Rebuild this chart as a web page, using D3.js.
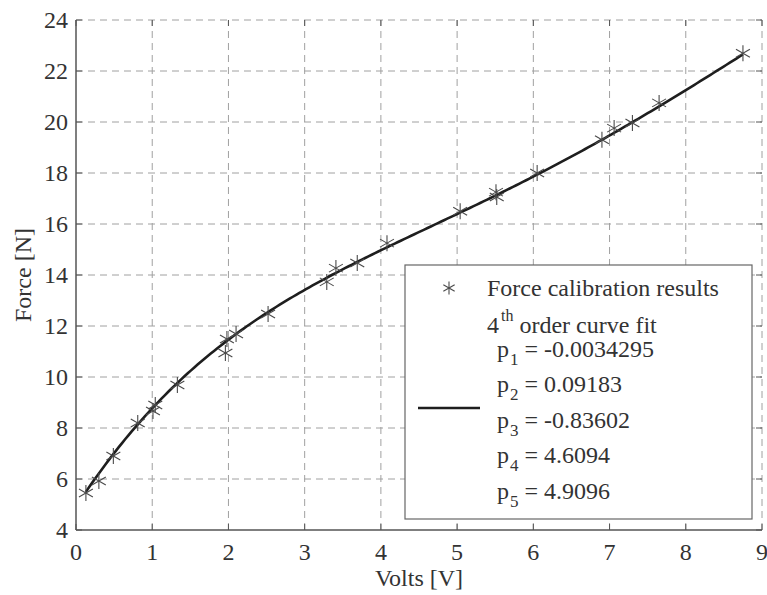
<!DOCTYPE html>
<html>
<head>
<meta charset="utf-8">
<script src="https://cdn.jsdelivr.net/npm/d3@7"></script>
<style>
  body { margin: 0; background: #fff; }
  svg text { font-family: "Liberation Serif", "DejaVu Serif", serif; fill: #333; }
</style>
</head>
<body>
<div id="chart"></div>
<script>
// measured calibration points
const volts = [0.13, 0.30, 0.49, 0.81, 1.04, 1.01, 1.33, 1.96, 1.98, 2.10, 2.52, 3.29, 3.41, 3.69, 4.08,
               5.04, 5.52, 5.51, 6.05, 6.90, 7.06, 7.30, 7.65, 8.75];
const force = [5.45, 5.92, 6.90, 8.20, 8.90, 8.67, 9.69, 10.94, 11.49, 11.69, 12.47, 13.73, 14.27, 14.47, 15.25,
               16.50, 17.06, 17.25, 18.00, 19.30, 19.76, 19.96, 20.75, 22.70];
// 4th order fit coefficients (p1..p5)
const coeffs = [-0.0034295, 0.09183, -0.83602, 4.6094, 4.9096];
const coeffLabels = ["-0.0034295", "0.09183", "-0.83602", "4.6094", "4.9096"];
const xTicks = [0, 1, 2, 3, 4, 5, 6, 7, 8, 9];
const yTicks = [4, 6, 8, 10, 12, 14, 16, 18, 20, 22, 24];

const width = 767, height = 595;
const margin = {left: 76, right: 5, top: 20, bottom: 65};

const svg = d3.select("#chart").append("svg")
    .attr("width", width)
    .attr("height", height);

const x = d3.scaleLinear().domain([0, 9]).range([margin.left, width - margin.right]);
const y = d3.scaleLinear().domain([4, 24]).range([height - margin.bottom, margin.top]);

const x0 = x(0), x1 = x(9), y0 = y(4), y1 = y(24);

// grid
const grid = svg.append("g").attr("stroke", "#a0a0a0").attr("stroke-width", 1).attr("stroke-dasharray", "7,5");
grid.selectAll("line.gx").data(xTicks.slice(1)).enter().append("line")
    .attr("x1", d => x(d)).attr("x2", d => x(d)).attr("y1", y0).attr("y2", y1);
grid.selectAll("line.gy").data(yTicks.slice(1)).enter().append("line")
    .attr("x1", x0).attr("x2", x1).attr("y1", d => y(d)).attr("y2", d => y(d));

// axes (left and bottom solid)
svg.append("line").attr("x1", x0).attr("x2", x0).attr("y1", y0).attr("y2", y1)
    .attr("stroke", "#555").attr("stroke-width", 1.5);
svg.append("line").attr("x1", x0).attr("x2", x1).attr("y1", y0).attr("y2", y0)
    .attr("stroke", "#555").attr("stroke-width", 1.5);

// inside ticks on all four sides
const ticks = svg.append("g").attr("stroke", "#555").attr("stroke-width", 1);
ticks.selectAll(".tb").data(xTicks).enter().append("line")
    .attr("x1", d => x(d)).attr("x2", d => x(d)).attr("y1", y0).attr("y2", y0 - 6);
ticks.selectAll(".tt").data(xTicks).enter().append("line")
    .attr("x1", d => x(d)).attr("x2", d => x(d)).attr("y1", y1).attr("y2", y1 + 6);
ticks.selectAll(".tl").data(yTicks).enter().append("line")
    .attr("x1", x0).attr("x2", x0 + 6).attr("y1", d => y(d)).attr("y2", d => y(d));
ticks.selectAll(".tr").data(yTicks).enter().append("line")
    .attr("x1", x1).attr("x2", x1 - 6).attr("y1", d => y(d)).attr("y2", d => y(d));

// tick labels
svg.selectAll(".xl").data(xTicks).enter().append("text")
    .attr("x", d => x(d)).attr("y", y0 + 30)
    .attr("text-anchor", "middle").attr("font-size", 24)
    .text(d => d);
svg.selectAll(".yl").data(yTicks).enter().append("text")
    .attr("x", x0 - 8).attr("y", d => y(d) + 8)
    .attr("text-anchor", "end").attr("font-size", 24)
    .text(d => d);

svg.append("text").attr("x", (x0 + x1) / 2).attr("y", 586)
    .attr("text-anchor", "middle").attr("font-size", 24).text("Volts [V]");
svg.append("text")
    .attr("transform", "translate(31," + ((y0 + y1) / 2) + ") rotate(-90)")
    .attr("text-anchor", "middle").attr("font-size", 24).text("Force [N]");

// fit curve
const poly = v => coeffs.reduce((acc, c) => acc * v + c, 0);
const vMin = d3.min(volts), vMax = d3.max(volts);
const curve = d3.range(0, 201).map(i => {
    const v = vMin + (vMax - vMin) * i / 200;
    return [v, poly(v)];
});
svg.append("path").datum(curve)
    .attr("fill", "none").attr("stroke", "#1e1e1e").attr("stroke-width", 2.6)
    .attr("d", d3.line().x(d => x(d[0])).y(d => y(d[1])));

// asterisk markers
const star = function(g, cx, cy, r) {
    const s = g.append("g").attr("transform", "translate(" + cx + "," + cy + ")")
        .attr("stroke", "#4a4a4a").attr("stroke-width", 1.1);
    s.append("line").attr("x1", 0).attr("x2", 0).attr("y1", -r).attr("y2", r);
    s.append("line").attr("x1", -r * 0.87).attr("x2", r * 0.87).attr("y1", -r * 0.5).attr("y2", r * 0.5);
    s.append("line").attr("x1", -r * 0.87).attr("x2", r * 0.87).attr("y1", r * 0.5).attr("y2", -r * 0.5);
};
const pts = svg.append("g");
volts.forEach((v, i) => star(pts, x(v), y(force[i]), 8));

// legend
const lg = svg.append("g");
lg.append("rect").attr("x", 405).attr("y", 265).attr("width", 347).attr("height", 254)
    .attr("fill", "#fff").attr("stroke", "#666").attr("stroke-width", 1.2);
star(lg, 449, 288, 6.5);
lg.append("text").attr("x", 487).attr("y", 296).attr("font-size", 24).text("Force calibration results");

const t4 = lg.append("text").attr("x", 487).attr("y", 333).attr("font-size", 24);
t4.append("tspan").text("4");
t4.append("tspan").attr("font-size", 16).attr("dx", 2).attr("dy", -12).text("th");
t4.append("tspan").attr("dy", 12).text(" order curve fit");

lg.append("line").attr("x1", 418).attr("x2", 480).attr("y1", 408).attr("y2", 408)
    .attr("stroke", "#1e1e1e").attr("stroke-width", 2.6);

const baselines = [357, 392, 428, 463, 499];
coeffLabels.forEach((c, i) => {
    const t = lg.append("text").attr("x", 497).attr("y", baselines[i]).attr("font-size", 24);
    t.append("tspan").text("p");
    t.append("tspan").attr("font-size", 17).attr("dx", 1).attr("dy", 8).text(i + 1);
    t.append("tspan").attr("dy", -8).text(" = " + c);
});
</script>
</body>
</html>
